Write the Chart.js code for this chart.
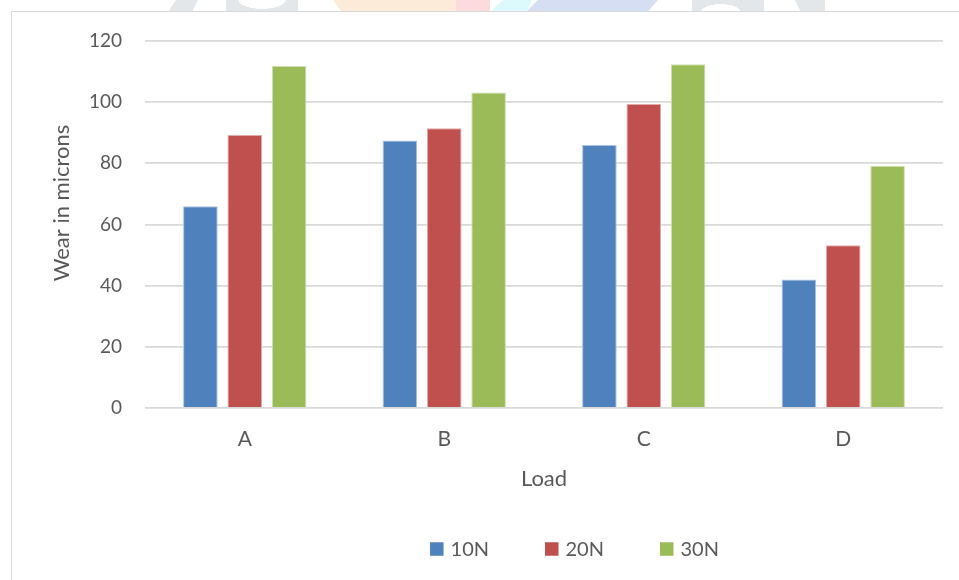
<!DOCTYPE html>
<html>
<head>
<meta charset="utf-8">
<script src="https://cdn.jsdelivr.net/npm/chart.js@4/dist/chart.umd.min.js"></script>
<style>
  html, body { margin: 0; padding: 0; background: #fff; width: 959px; height: 580px; overflow: hidden; }
  .mark { position: absolute; top: 0; height: 12px; }
  #frame { position: absolute; left: 11px; top: 11px; width: 1130px; height: 620px;
           border-left: 1px solid #D9D9D9; border-top: 1px solid #D9D9D9; background: #fff; }
  #wrap { position: absolute; left: 12px; top: 12px; width: 1119px; height: 588px; }
</style>
</head>
<body>
<!-- faint emblem peeking above the chart frame -->
<div class="mark" style="left:168px;width:30px;background:#E3E7EA;clip-path:polygon(27% 0,100% 0,80% 100%,0 100%)"></div>
<div class="mark" style="left:226px;width:72px;background:radial-gradient(ellipse 24px 9px at 50% 0,#fff 96%,#E3E7EA 100%)"></div>
<div class="mark" style="left:333px;width:126px;background:#FDEBDA;clip-path:polygon(0 0,100% 0,100% 100%,7% 100%)"></div>
<div class="mark" style="left:456px;width:34px;background:#FCDADD"></div>
<div class="mark" style="left:490px;width:42px;background:#DCFAFB;clip-path:polygon(30% 0,100% 0,88% 100%,0 100%)"></div>
<div class="mark" style="left:526px;width:132px;background:#D6DEF3;clip-path:polygon(9% 0,100% 0,92% 100%,0 100%)"></div>
<div class="mark" style="left:692px;width:72px;background:radial-gradient(ellipse 20px 8px at 40% 100%,#fff 96%,#E3E7EA 100%)"></div>
<div class="mark" style="left:795px;width:30px;background:#E3E7EA;clip-path:polygon(0 0,100% 0,100% 100%,20% 100%)"></div>

<div id="frame"></div>
<div id="wrap"><canvas id="c"></canvas></div>

<script>
const categories = ['A', 'B', 'C', 'D'];
const seriesNames = ['10N', '20N', '30N'];
const wear10N = [66, 87.5, 86, 42];
const wear20N = [89.3, 91.5, 99.4, 53.2];
const wear30N = [111.8, 103.2, 112.4, 79.2];
const yTicks = [0, 20, 40, 60, 80, 100, 120];

const fills   = ['#4F81BD', '#C0504D', '#9BBB59'];
const edges   = ['#A9C1E0', '#E2AAA8', '#CFE0AE'];
const textCol = '#595959';
const fontFam = 'Lato, "Open Sans", sans-serif';

// Y-axis title and the bottom legend, drawn on the chart canvas
const extras = {
  id: 'extras',
  afterDraw(chart) {
    const ctx = chart.ctx;
    ctx.save();
    ctx.fillStyle = textCol;

    // axis title, rotated
    ctx.font = '22px ' + fontFam;
    ctx.textAlign = 'center';
    ctx.textBaseline = 'middle';
    ctx.translate(50, 191);
    ctx.rotate(-Math.PI / 2);
    ctx.fillText('Wear in microns', 0, 0);
    ctx.setTransform(1, 0, 0, 1, 0, 0);

    // legend row centred on the canvas
    ctx.font = '20px ' + fontFam;
    const box = 13.5, gap = 7, sep = 56, y = 537;
    const items = chart.data.datasets.map(ds => ({
      label: ds.label, color: ds.backgroundColor,
      w: box + gap + ctx.measureText(ds.label).width
    }));
    const total = items.reduce((s, it) => s + it.w, 0) + sep * (items.length - 1);
    let x = chart.width / 2 - total / 2 + 3;
    ctx.textAlign = 'left';
    items.forEach(it => {
      ctx.fillStyle = it.color;
      ctx.fillRect(x, y - box / 2, box, box);
      ctx.fillStyle = textCol;
      ctx.fillText(it.label, x + box + gap, y + 1);
      x += it.w + sep;
    });
    ctx.restore();
  }
};

const values = [wear10N, wear20N, wear30N];

new Chart(document.getElementById('c'), {
  type: 'bar',
  data: {
    labels: categories,
    datasets: seriesNames.map((name, i) => ({
      label: name,
      data: values[i],
      backgroundColor: fills[i],
      borderColor: edges[i],
      borderWidth: 1,
      categoryPercentage: 0.667,
      barPercentage: 0.78
    }))
  },
  options: {
    responsive: true,
    maintainAspectRatio: false,
    animation: false,
    layout: { padding: { left: 0, top: 29, right: 188, bottom: 0 } },
    plugins: { legend: { display: false }, tooltip: { enabled: false } },
    scales: {
      x: {
        grid: { display: false, drawTicks: false },
        border: { display: false },
        ticks: { color: textCol, font: { family: fontFam, size: 21 }, padding: 19 },
        title: { display: true, text: 'Load', color: textCol,
                 font: { family: fontFam, size: 22 }, padding: { top: 0, bottom: 108 } },
        afterFit: s => { s.height = 192; }
      },
      y: {
        min: 0, max: 120,
        afterBuildTicks: s => { s.ticks = yTicks.map(v => ({ value: v })); },
        // invisible tick marks keep the labels clear of the plot
        grid: { color: '#D9D9D9', lineWidth: 1.8, drawTicks: true, tickLength: 23, tickColor: 'rgba(0,0,0,0)' },
        border: { display: false },
        ticks: { color: textCol, font: { family: fontFam, size: 19 }, padding: 0 },
        afterFit: s => { s.width = 133; }
      }
    }
  },
  plugins: [extras]
});
</script>
</body>
</html>
